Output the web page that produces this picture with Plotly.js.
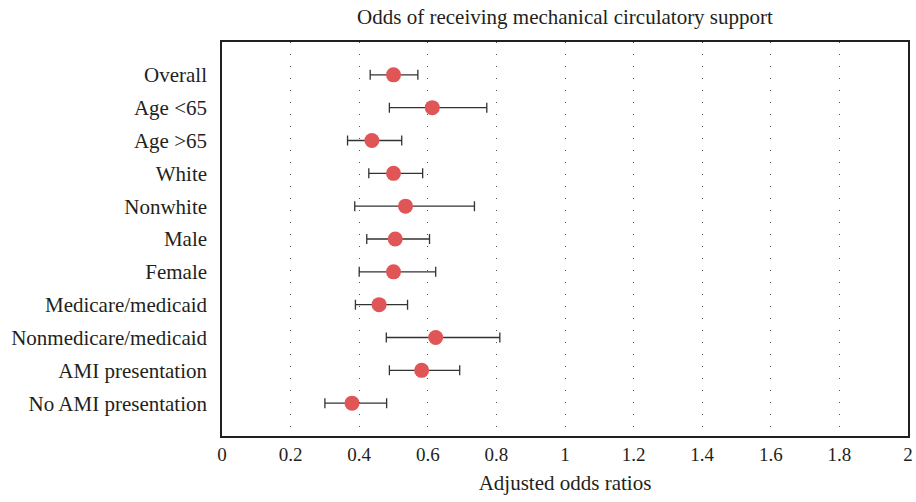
<!DOCTYPE html>
<html><head><meta charset="utf-8">
<script src="https://cdn.plot.ly/plotly-3.0.1.min.js"></script>
<style>html,body{margin:0;padding:0;background:#fff;}#chart{width:916px;height:502px;}</style>
</head><body><div id="chart"></div>
<script>
const categories = ["Overall","Age <65","Age >65","White","Nonwhite","Male","Female","Medicare/medicaid","Nonmedicare/medicaid","AMI presentation","No AMI presentation"];
const oddsRatio = [0.500,0.613,0.437,0.500,0.535,0.505,0.500,0.458,0.623,0.582,0.379];
const lowerCI  = [0.432,0.488,0.366,0.428,0.387,0.422,0.400,0.389,0.479,0.488,0.300];
const upperCI  = [0.571,0.772,0.524,0.585,0.736,0.605,0.623,0.541,0.810,0.693,0.480];
const xTicks = [0,0.2,0.4,0.6,0.8,1,1.2,1.4,1.6,1.8,2];
const xTickText = ["0","0.2","0.4","0.6","0.8","1","1.2","1.4","1.6","1.8","2"];

const idx = categories.map((c,i)=>i);
const fam = "Liberation Serif, Times New Roman, serif";
const font = {family:fam, size:21, color:"#231f20"};

Plotly.newPlot("chart", [{
  type:"scatter", mode:"markers",
  x: oddsRatio, y: idx,
  marker:{size:15, color:"#e05555"},
  error_x:{type:"data", symmetric:false,
    array: oddsRatio.map((v,i)=>upperCI[i]-v),
    arrayminus: oddsRatio.map((v,i)=>v-lowerCI[i]),
    color:"#333", thickness:1.3, width:5},
  hoverinfo:"x+y"
}], {
  width:916, height:502,
  margin:{l:222, r:8, t:42, b:66},
  paper_bgcolor:"#fff", plot_bgcolor:"#fff",
  showlegend:false,
  font: font,
  title:{text:"Odds of receiving mechanical circulatory support", font:{family:fam, size:21, color:"#231f20"}, x:0.5, xanchor:"center", xref:"paper", y:0.966, yanchor:"middle"},
  xaxis:{range:[0,2], tickvals:xTicks, ticktext:xTickText, showgrid:true, gridcolor:"#555", griddash:"1px,11px", gridwidth:1.2,
    zeroline:false, showline:true, mirror:true, linecolor:"#231f20", linewidth:1.5, ticks:"", tickfont:{family:fam, size:19, color:"#231f20"},
    title:{text:"Adjusted odds ratios", font:font, standoff:12}},
  yaxis:{range:[11,-1], tickvals:idx, ticktext:categories, showgrid:false, zeroline:false, showline:true, mirror:true,
    linecolor:"#231f20", linewidth:1.5, ticks:"", tickfont:font, ticklabelstandoff:9}
}, {displayModeBar:false});
</script></body></html>
